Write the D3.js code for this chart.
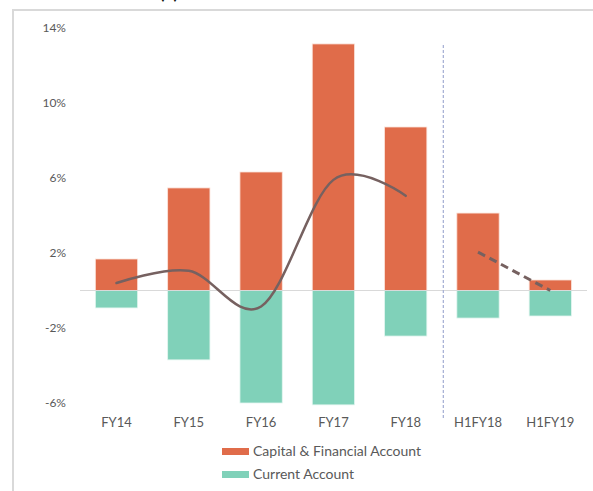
<!DOCTYPE html>
<html>
<head>
<meta charset="utf-8">
<script src="https://cdn.jsdelivr.net/npm/d3@7"></script>
<style>
	body { margin: 0; background: #fff; }
	svg { display: block; font-family: Lato, "Open Sans", sans-serif; }
</style>
</head>
<body>
<svg></svg>
<script>
const categories = ['FY14', 'FY15', 'FY16', 'FY17', 'FY18', 'H1FY18', 'H1FY19'];
const capitalAccount = [1.68, 5.47, 6.32, 13.15, 8.72, 4.13, 0.56];
const currentAccount = [-0.93, -3.7, -6.0, -6.1, -2.43, -1.47, -1.36];
const netLine = [0.4, 1.05, -0.85, 5.9, 5.05];      // FY14..FY18, solid
const netDashed = [2.05, 0.0];                      // H1FY18..H1FY19, dashed
const yTicks = [14, 10, 6, 2, -2, -6];
const legendNames = ['Capital & Financial Account', 'Current Account'];

const width = 593;
const height = 491;
const orange = '#e06c4a';
const teal = '#80d1b9';
const lineColour = '#766160';
const textColour = '#595959';

const svg = d3.select('svg')
	.attr('width', width)
	.attr('height', height);

// outer frame (partially cropped)
svg.append('path')
	.attr('d', `M13,${height} V10 H${width}`)
	.attr('fill', 'none')
	.attr('stroke', '#d9d9d9')
	.attr('stroke-width', 2);

// cropped title fragment, as in the source
svg.append('text')
	.attr('x', 169)
	.attr('y', -1)
	.attr('text-anchor', 'middle')
	.attr('font-size', 17)
	.attr('font-weight', 'bold')
	.attr('fill', '#111')
	.text('(b)');

const x = d3.scaleBand()
	.domain(categories)
	.range([80.35, 586.45])
	.paddingInner(0.415)
	.paddingOuter(0.2075);

const y = d3.scaleLinear()
	.domain([-6, 14])
	.range([403, 28]);

// y tick labels
svg.append('g')
	.selectAll('text')
	.data(yTicks)
	.enter().append('text')
		.attr('x', 66)
		.attr('y', d => y(d))
		.attr('dy', '0.35em')
		.attr('text-anchor', 'end')
		.attr('font-size', 12)
		.attr('fill', textColour)
		.text(d => d + '%');

// bars
svg.append('g')
	.selectAll('rect')
	.data(categories)
	.enter().append('rect')
		.attr('x', d => x(d))
		.attr('width', x.bandwidth())
		.attr('y', (d, i) => y(capitalAccount[i]))
		.attr('height', (d, i) => y(0) - y(capitalAccount[i]))
		.attr('fill', orange)
		.attr('stroke', '#fbe3da')
		.attr('stroke-width', 0.8);

svg.append('g')
	.selectAll('rect')
	.data(categories)
	.enter().append('rect')
		.attr('x', d => x(d))
		.attr('width', x.bandwidth())
		.attr('y', y(0))
		.attr('height', (d, i) => y(currentAccount[i]) - y(0))
		.attr('fill', teal)
		.attr('stroke', '#e3f6f0')
		.attr('stroke-width', 0.8);

// zero line
svg.append('line')
	.attr('x1', 80)
	.attr('x2', 587)
	.attr('y1', y(0))
	.attr('y2', y(0))
	.attr('stroke', '#d9d9d9')
	.attr('stroke-width', 1.2);

// separator between full years and half years
const sepX = (x('FY18') + x.bandwidth() + x('H1FY18')) / 2 + 1.5;
svg.append('line')
	.attr('x1', sepX)
	.attr('x2', sepX)
	.attr('y1', 45)
	.attr('y2', 419)
	.attr('stroke', '#aab3d6')
	.attr('stroke-width', 1.3)
	.attr('stroke-dasharray', '3,2');

const cx = d => x(d) + x.bandwidth() / 2;

const smooth = d3.line()
	.x(d => cx(d[0]))
	.y(d => y(d[1]))
	.curve(d3.curveCardinal.tension(0));

svg.append('path')
	.datum(netLine.map((v, i) => [categories[i], v]))
	.attr('d', smooth)
	.attr('fill', 'none')
	.attr('stroke', lineColour)
	.attr('stroke-width', 2.5)
	.attr('stroke-linecap', 'round');

svg.append('path')
	.datum(netDashed.map((v, i) => [categories[i + 5], v]))
	.attr('d', d3.line().x(d => cx(d[0])).y(d => y(d[1])))
	.attr('fill', 'none')
	.attr('stroke', lineColour)
	.attr('stroke-width', 3)
	.attr('stroke-dasharray', '8,5');

// x labels
svg.append('g')
	.selectAll('text')
	.data(categories)
	.enter().append('text')
		.attr('x', d => cx(d))
		.attr('y', 427)
		.attr('text-anchor', 'middle')
		.attr('font-size', 13)
		.attr('fill', textColour)
		.text(d => d);

// legend
const legend = svg.append('g')
	.selectAll('g')
	.data(legendNames)
	.enter().append('g')
		.attr('transform', (d, i) => `translate(222, ${448 + i * 23})`);

legend.append('rect')
	.attr('width', 27)
	.attr('height', 7)
	.attr('fill', (d, i) => i === 0 ? orange : teal);

legend.append('text')
	.attr('x', 31)
	.attr('y', 8)
	.attr('font-size', 14)
	.attr('fill', textColour)
	.text(d => d);
</script>
</body>
</html>
